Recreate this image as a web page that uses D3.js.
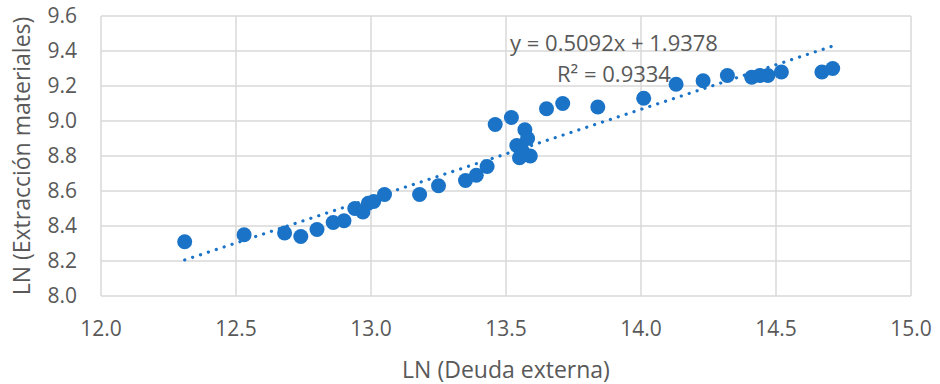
<!DOCTYPE html>
<html>
<head>
<meta charset="utf-8">
<script src="https://cdn.jsdelivr.net/npm/d3@7"></script>
<style>
  body { margin: 0; background: #fff; }
  svg { display: block; font-family: "Open Sans", sans-serif; }
  .grid line { stroke: #d9d9d9; stroke-width: 1.5; }
  .label { fill: #595959; }
</style>
</head>
<body>
<svg></svg>
<script>
// LN (Deuda externa)
const deuda = [
  12.31, 12.53, 12.68, 12.74, 12.80, 12.86, 12.90, 12.94, 12.97, 12.99,
  13.01, 13.05, 13.18, 13.25, 13.35, 13.39, 13.43, 13.46, 13.52, 13.54,
  13.56, 13.57, 13.58, 13.55, 13.59, 13.65, 13.71, 13.84, 14.01, 14.13,
  14.23, 14.32, 14.41, 14.44, 14.47, 14.52, 14.67, 14.71
];
// LN (Extracción materiales)
const extraccion = [
  8.31, 8.35, 8.36, 8.34, 8.38, 8.42, 8.43, 8.50, 8.48, 8.53,
  8.54, 8.58, 8.58, 8.63, 8.66, 8.69, 8.74, 8.98, 9.02, 8.86,
  8.83, 8.95, 8.90, 8.79, 8.80, 9.07, 9.10, 9.08, 9.13, 9.21,
  9.23, 9.26, 9.25, 9.26, 9.26, 9.28, 9.28, 9.30
];
const xTicks = [12.0, 12.5, 13.0, 13.5, 14.0, 14.5, 15.0];
const yTicks = [8.0, 8.2, 8.4, 8.6, 8.8, 9.0, 9.2, 9.4, 9.6];
const slope = 0.5092;
const intercept = 1.9378;
const r2 = 0.9334;

const width = 940;
const height = 384;
const margin = { top: 16, right: 29, bottom: 88, left: 101 };

const svg = d3.select('svg')
  .attr('width', width)
  .attr('height', height);

const x = d3.scaleLinear()
  .domain([12, 15])
  .range([margin.left, width - margin.right]);

const y = d3.scaleLinear()
  .domain([8, 9.6])
  .range([height - margin.bottom, margin.top]);

const grid = svg.append('g').classed('grid', true);

grid.selectAll('line.v')
  .data(xTicks)
  .enter()
  .append('line')
  .attr('class', 'v')
  .attr('x1', d => x(d))
  .attr('x2', d => x(d))
  .attr('y1', y(8))
  .attr('y2', y(9.6));

grid.selectAll('line.h')
  .data(yTicks)
  .enter()
  .append('line')
  .attr('class', 'h')
  .attr('x1', x(12))
  .attr('x2', x(15))
  .attr('y1', d => y(d))
  .attr('y2', d => y(d));

// tick labels
svg.append('g')
  .selectAll('text')
  .data(xTicks)
  .enter()
  .append('text')
  .attr('class', 'label')
  .attr('x', d => x(d))
  .attr('y', y(8) + 33)
  .attr('dy', '0.35em')
  .attr('text-anchor', 'middle')
  .style('font-size', '21px')
  .text(d => d.toFixed(1));

svg.append('g')
  .selectAll('text')
  .data(yTicks)
  .enter()
  .append('text')
  .attr('class', 'label')
  .attr('x', x(12) - 24)
  .attr('y', d => y(d))
  .attr('dy', '0.35em')
  .attr('text-anchor', 'end')
  .style('font-size', '21px')
  .text(d => d.toFixed(1));

// trendline
const xExt = d3.extent(deuda);
svg.append('line')
  .attr('x1', x(xExt[0]))
  .attr('y1', y(slope * xExt[0] + intercept))
  .attr('x2', x(xExt[1]))
  .attr('y2', y(slope * xExt[1] + intercept))
  .attr('stroke', '#1a73c6')
  .attr('stroke-width', 3.2)
  .attr('stroke-linecap', 'round')
  .attr('stroke-dasharray', '0.1 8.2');

// points
svg.append('g')
  .selectAll('circle')
  .data(deuda.map((d, i) => ({ x: d, y: extraccion[i] })))
  .enter()
  .append('circle')
  .attr('cx', d => x(d.x))
  .attr('cy', d => y(d.y))
  .attr('r', 7.5)
  .attr('fill', '#1a73c6');

// equation
const eq = svg.append('g')
  .attr('class', 'label')
  .style('font-size', '22px')
  .attr('text-anchor', 'middle');

eq.append('text')
  .attr('x', 614)
  .attr('y', 51)
  .text(`y = ${slope}x + ${intercept}`);

eq.append('text')
  .attr('x', 614)
  .attr('y', 82)
  .text(`R² = ${r2}`);

// axis titles
svg.append('text')
  .attr('class', 'label')
  .attr('x', (x(12) + x(15)) / 2)
  .attr('y', 378)
  .attr('text-anchor', 'middle')
  .style('font-size', '23px')
  .text('LN (Deuda externa)');

svg.append('text')
  .attr('class', 'label')
  .attr('transform', `translate(30, ${(y(8) + y(9.6)) / 2}) rotate(-90)`)
  .attr('text-anchor', 'middle')
  .style('font-size', '23px')
  .text('LN (Extracción materiales)');
</script>
</body>
</html>
